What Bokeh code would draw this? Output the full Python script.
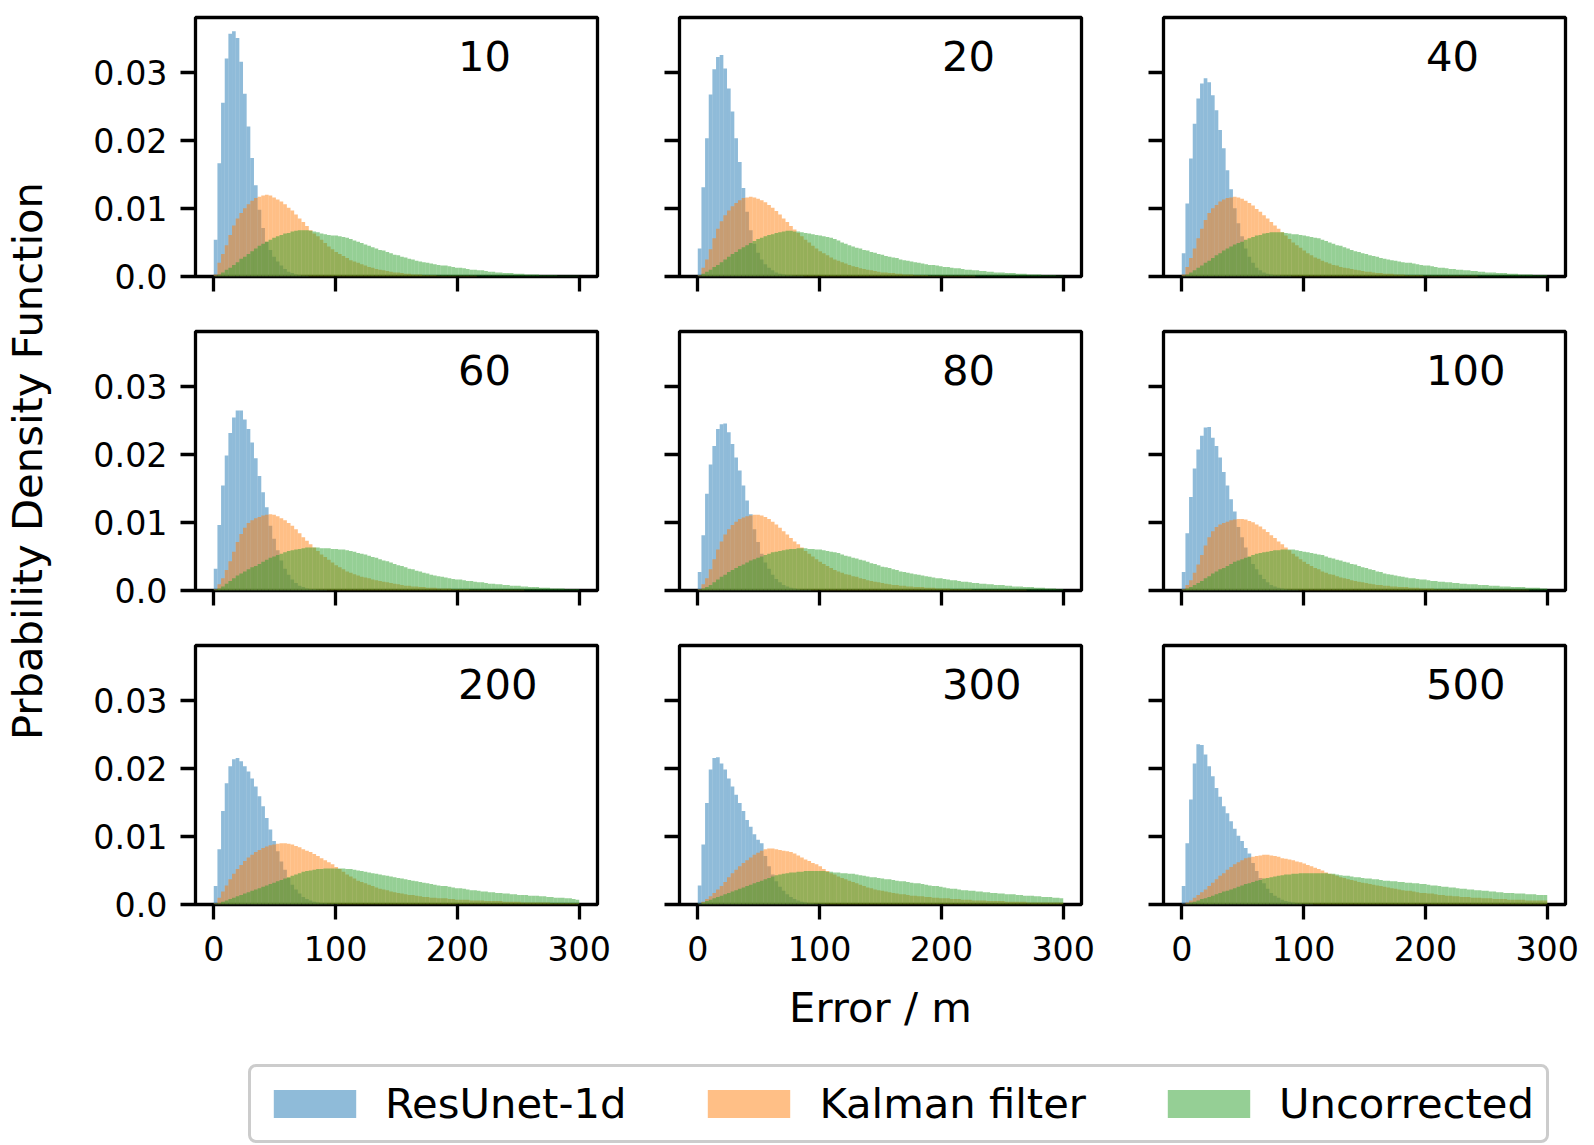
import numpy as np
from bokeh.plotting import figure
from bokeh.layouts import column, row
from bokeh.models import (Range1d, FixedTicker, Label, Legend, LegendItem,
                          CustomJSTickFormatter, ColumnDataSource)
from bokeh.embed import file_html
from bokeh.resources import INLINE

# ---------------- data: density per 3 m bin, in units of 1e-4 ----------------
error_bin_edges_m = np.linspace(0, 300, 101)
density_unit = 1e-4
panel_labels = ["10", "20", "40", "60", "80", "100", "200", "300", "500"]
series_names = ["ResUnet-1d", "Kalman filter", "Uncorrected"]
x_tick_values = [0, 100, 200, 300]
y_tick_values = [0.0, 0.01, 0.02, 0.03]
y_tick_labels = ["0.0", "0.01", "0.02", "0.03"]

resunet_10 = [54,166,255,320,356,360,350,315,268,220, 174,134,98,71,51,39,29,22,16,11,
              7,5,3,2,1,1,0,0,0,0, 0,0,0,0,0,0,0,0,0,0, 0,0,0,0,0,0,0,0,0,0,
              0,0,0,0,0,0,0,0,0,0, 0,0,0,0,0,0,0,0,0,0, 0,0,0,0,0,0,0,0,0,0,
              0,0,0,0,0,0,0,0,0,0, 0,0,0,0,0,0,0,0,0,0]
kalman_10 = [3,20,33,46,61,75,85,93,100,106, 111,115,117,119,120,119,116,113,110,106,
             101,97,91,85,80,74,68,63,59,54, 49,44,40,36,33,30,27,24,22,20,
             18,16,14,13,11,10,9,8,7,6, 6,5,4,4,3,3,3,2,2,2,
             2,1,1,1,1,1,1,1,1,1, 1,1,0,0,0,0,0,0,0,0, 0,0,0,0,0,0,0,0,0,0,
             0,0,0,0,0,0,0,0,0,0]
uncorrected_10 = [1,3,6,10,13,17,21,26,29,33, 37,41,45,48,51,54,57,59,61,63,
                  64,66,67,68,68,68,67,66,65,63, 62,61,60,60,59,58,57,55,53,51,
                  49,47,45,43,41,39,38,36,34,32, 31,29,28,26,25,23,22,21,20,19,
                  18,17,16,16,15,14,13,13,12,11, 10,10,9,9,8,7,7,6,6,5,
                  5,5,4,4,4,3,3,3,3,2, 2,2,2,2,1,1,1,1,1,1]

resunet_20 = [41,131,203,267,304,322,325,305,276,242, 203,168,130,95,68,48,35,25,18,13,
              9,6,4,3,2,2,1,1,1,0, 0,0,0,0,0,0,0,0,0,0, 0,0,0,0,0,0,0,0,0,0,
              0,0,0,0,0,0,0,0,0,0, 0,0,0,0,0,0,0,0,0,0, 0,0,0,0,0,0,0,0,0,0,
              0,0,0,0,0,0,0,0,0,0, 0,0,0,0,0,0,0,0,0,0]
kalman_20 = [2,13,25,40,56,70,81,90,97,103, 108,112,115,116,117,116,114,112,109,105,
             101,96,91,85,80,74,69,64,59,54, 50,45,41,37,34,31,28,25,23,21,
             19,17,15,14,12,11,10,9,8,7, 6,6,5,5,4,4,3,3,3,2,
             2,2,2,1,1,1,1,1,1,1, 1,1,1,1,1,1,0,0,0,0, 0,0,0,0,0,0,0,0,0,0,
             0,0,0,0,0,0,0,0,0,0]
uncorrected_20 = [1,4,7,10,14,17,21,25,29,33, 36,40,43,46,49,52,55,57,59,61,
                  62,64,65,66,67,67,66,66,65,64, 63,62,61,60,59,58,57,55,53,50,
                  48,46,44,42,41,39,38,36,35,33, 32,30,29,28,27,25,24,23,22,21,
                  20,19,18,17,17,16,15,14,14,13, 12,12,11,10,10,9,9,8,8,7,
                  7,6,6,6,5,5,5,4,4,4, 3,3,3,3,2,2,2,2,1,1]

resunet_40 = [34,107,173,224,261,283,291,285,266,244, 215,188,156,128,100,78,59,41,29,20,
              13,9,6,4,3,2,2,1,1,1, 0,0,0,0,0,0,0,0,0,0, 0,0,0,0,0,0,0,0,0,0,
              0,0,0,0,0,0,0,0,0,0, 0,0,0,0,0,0,0,0,0,0, 0,0,0,0,0,0,0,0,0,0,
              0,0,0,0,0,0,0,0,0,0, 0,0,0,0,0,0,0,0,0,0]
kalman_40 = [3,14,27,41,56,70,83,93,100,105, 110,113,115,116,117,116,114,111,108,104,
             99,95,90,85,80,75,70,65,60,55, 50,46,42,38,34,31,28,26,23,21,
             19,17,16,14,13,12,11,10,9,8, 7,7,6,5,5,4,4,4,3,3,
             3,2,2,2,2,2,1,1,1,1, 1,1,1,1,1,1,1,1,1,1, 1,0,0,0,0,0,0,0,0,0,
             0,0,0,0,0,0,0,0,0,0]
uncorrected_40 = [1,3,6,9,13,16,20,23,27,31, 34,38,41,44,47,49,51,54,56,58,
                  60,61,63,64,65,65,65,65,64,63, 62,62,61,60,59,58,57,56,54,52,
                  50,48,46,45,43,41,39,37,36,34, 33,31,30,29,27,26,25,24,23,22,
                  21,20,20,19,18,17,16,16,15,14, 13,13,12,11,11,10,10,9,9,8,
                  8,7,7,6,6,6,5,5,5,4, 4,4,3,3,3,3,2,2,2,2]

resunet_60 = [32,96,154,198,231,254,264,264,251,237, 217,194,168,144,122,95,76,59,44,32,
              23,16,11,7,5,3,2,2,1,1, 1,0,0,0,0,0,0,0,0,0, 0,0,0,0,0,0,0,0,0,0,
              0,0,0,0,0,0,0,0,0,0, 0,0,0,0,0,0,0,0,0,0, 0,0,0,0,0,0,0,0,0,0,
              0,0,0,0,0,0,0,0,0,0, 0,0,0,0,0,0,0,0,0,0]
kalman_60 = [2,9,18,30,43,57,71,83,92,99, 103,106,108,110,111,112,111,109,106,103,
             99,95,90,84,78,73,68,63,58,53, 49,45,41,37,34,31,28,26,24,22,
             20,19,18,16,15,14,13,12,11,10, 9,8,7,7,6,6,5,5,4,4,
             4,3,3,3,3,2,2,2,2,2, 1,1,1,1,1,1,1,1,1,1, 1,1,1,1,1,0,0,0,0,0,
             0,0,0,0,0,0,0,0,0,0]
uncorrected_60 = [1,3,6,10,14,18,22,25,28,31, 34,36,39,42,45,48,50,52,54,56,
                  58,59,60,61,62,63,63,63,63,62, 62,62,61,61,60,60,59,58,57,55,
                  54,53,51,49,48,46,44,43,41,39, 37,36,34,32,31,29,28,26,25,23,
                  22,21,20,19,18,17,16,16,15,14, 14,13,12,12,11,10,10,9,9,8,
                  8,7,7,7,6,6,5,5,5,4, 4,4,3,3,3,3,2,2,2,2]

resunet_80 = [27,81,142,185,212,237,244,245,232,215, 195,176,154,132,112,90,71,54,41,32,
              23,17,12,8,6,4,3,2,1,1, 1,0,0,0,0,0,0,0,0,0, 0,0,0,0,0,0,0,0,0,0,
              0,0,0,0,0,0,0,0,0,0, 0,0,0,0,0,0,0,0,0,0, 0,0,0,0,0,0,0,0,0,0,
              0,0,0,0,0,0,0,0,0,0, 0,0,0,0,0,0,0,0,0,0]
kalman_80 = [2,9,18,31,46,60,72,82,90,96, 101,105,107,109,110,111,111,110,108,105,
             101,97,92,87,82,77,72,68,63,58, 54,50,46,42,39,36,33,30,28,26,
             24,23,21,20,18,17,15,14,13,12, 11,10,9,8,8,7,7,6,6,5,
             5,5,4,4,4,3,3,3,3,2, 2,2,2,2,2,1,1,1,1,1, 1,1,1,1,1,1,1,1,1,1,
             0,0,0,0,0,0,0,0,0,0]
uncorrected_80 = [1,3,5,8,12,16,20,23,27,30, 33,36,38,41,44,46,48,50,52,54,
                  56,57,58,59,60,61,61,62,62,62, 61,61,60,60,59,58,57,56,55,53,
                  51,50,48,47,45,44,42,40,39,37, 35,34,33,31,30,28,27,26,25,24,
                  23,22,21,20,19,18,18,17,16,15, 15,14,13,13,12,11,11,10,10,9,
                  9,8,8,8,7,7,6,6,6,5, 5,5,4,4,4,3,3,3,2,2]

resunet_100 = [27,84,137,179,207,227,239,240,224,212, 195,174,154,134,116,93,78,63,49,39,
               31,23,17,12,8,6,4,3,2,1, 1,1,0,0,0,0,0,0,0,0, 0,0,0,0,0,0,0,0,0,0,
               0,0,0,0,0,0,0,0,0,0, 0,0,0,0,0,0,0,0,0,0, 0,0,0,0,0,0,0,0,0,0,
               0,0,0,0,0,0,0,0,0,0, 0,0,0,0,0,0,0,0,0,0]
kalman_100 = [2,8,15,26,38,52,66,78,87,93, 97,99,101,103,104,105,105,104,102,100,
              97,94,90,86,81,77,72,68,63,59, 54,50,46,42,39,36,33,31,28,26,
              24,23,21,19,18,17,15,14,13,12, 11,10,9,8,8,7,7,6,6,5,
              5,5,4,4,4,3,3,3,3,2, 2,2,2,2,2,2,1,1,1,1, 1,1,1,1,1,1,1,1,1,1,
              1,1,1,1,1,0,0,0,0,0]
uncorrected_100 = [1,3,5,8,11,14,18,21,25,28, 31,33,36,39,42,44,46,48,50,52,
                   54,55,56,57,58,59,59,60,60,60, 60,59,58,57,56,55,54,53,52,50,
                   48,47,45,44,42,41,39,38,36,34, 33,31,30,28,27,25,24,23,22,21,
                   20,19,18,18,17,16,16,15,14,14, 13,13,12,12,11,11,10,10,9,9,
                   9,8,8,8,7,7,7,6,6,6, 5,5,5,5,4,4,4,4,3,3]

resunet_200 = [27,81,137,178,203,213,215,210,203,195, 185,173,159,144,127,110,93,78,63,51,
               39,29,22,16,11,8,6,4,3,2, 2,1,1,1,0,0,0,0,0,0, 0,0,0,0,0,0,0,0,0,0,
               0,0,0,0,0,0,0,0,0,0, 0,0,0,0,0,0,0,0,0,0, 0,0,0,0,0,0,0,0,0,0,
               0,0,0,0,0,0,0,0,0,0, 0,0,0,0,0,0,0,0,0,0]
kalman_200 = [2,10,19,28,37,45,52,58,64,69, 73,77,80,83,85,87,88,89,90,90,
              89,88,86,84,81,79,77,74,71,68, 65,62,59,55,52,48,44,41,38,35,
              33,31,29,27,25,23,22,21,19,18, 17,16,15,14,14,13,12,11,11,10,
              10,9,9,9,8,8,7,7,7,7, 6,6,6,6,5,5,5,5,5,4, 4,4,4,4,3,3,3,3,3,3,
              3,3,2,2,2,2,2,2,2,2]
uncorrected_200 = [1,2,4,6,8,10,12,14,16,18, 20,22,24,26,28,30,32,34,36,38,
                   40,42,44,46,48,49,50,51,52,52, 53,53,53,53,53,53,52,52,51,50,
                   49,48,47,46,45,44,43,42,41,40, 39,38,37,36,35,34,33,32,31,30,
                   29,28,27,27,26,25,24,24,23,22, 21,21,20,19,19,18,18,17,17,16,
                   16,15,15,14,14,14,13,13,13,12, 12,11,11,10,10,10,9,9,8,7]

resunet_300 = [28,88,149,198,215,216,207,198,185,173, 161,149,137,124,114,103,95,90,71,56,
               44,34,26,20,15,11,8,6,4,3, 2,2,1,1,1,0,0,0,0,0, 0,0,0,0,0,0,0,0,0,0,
               0,0,0,0,0,0,0,0,0,0, 0,0,0,0,0,0,0,0,0,0, 0,0,0,0,0,0,0,0,0,0,
               0,0,0,0,0,0,0,0,0,0, 0,0,0,0,0,0,0,0,0,0]
kalman_300 = [1,4,8,12,17,22,27,33,40,46, 51,56,61,65,69,73,76,79,81,82,
              82,81,80,79,78,77,75,72,69,66, 64,61,59,56,52,49,46,44,41,39,
              37,35,33,31,29,27,25,24,22,21, 20,19,18,17,16,15,15,14,13,13,
              12,12,11,11,10,10,9,9,9,8, 8,8,7,7,7,6,6,6,6,5, 5,5,5,5,4,4,4,4,4,4,
              3,3,3,3,3,3,3,3,3,3]
uncorrected_300 = [1,3,5,7,9,11,13,15,17,19, 21,23,25,27,29,31,33,35,37,39,
                   41,43,44,45,46,47,47,48,48,49, 49,49,49,49,49,48,48,47,47,46,
                   46,45,45,44,43,42,41,40,40,39, 38,37,37,36,35,34,34,33,32,31,
                   31,30,29,28,27,27,26,25,24,23, 23,22,21,21,20,20,19,19,18,18,
                   17,17,16,16,15,15,15,14,14,13, 13,13,12,12,11,11,11,10,10,9]

resunet_500 = [27,90,154,207,235,234,220,203,188,171, 158,144,134,122,111,101,93,83,75,61,
               49,39,31,23,17,13,10,7,5,4, 3,2,2,1,1,1,0,0,0,0, 0,0,0,0,0,0,0,0,0,0,
               0,0,0,0,0,0,0,0,0,0, 0,0,0,0,0,0,0,0,0,0, 0,0,0,0,0,0,0,0,0,0,
               0,0,0,0,0,0,0,0,0,0, 0,0,0,0,0,0,0,0,0,0]
kalman_500 = [1,3,6,10,14,18,22,27,32,37, 42,46,51,55,59,62,65,68,69,70,
              71,72,73,73,72,71,70,68,67,66, 65,63,62,60,58,56,54,52,50,47,
              45,44,42,40,39,37,36,35,33,32, 31,30,29,28,27,26,25,24,23,22,
              21,20,20,19,18,17,17,16,16,15, 14,14,13,13,12,12,11,11,11,10,
              10,10,9,9,9,8,8,8,8,7, 7,7,7,7,6,6,6,6,6,6]
uncorrected_500 = [0,1,3,4,6,8,9,11,13,15, 17,19,20,22,24,26,28,30,31,33,
                   35,36,38,39,40,41,42,43,44,44, 45,45,46,46,46,46,46,46,46,46,
                   45,45,44,43,42,42,41,40,40,39, 38,38,37,37,36,35,35,34,34,33,
                   33,32,32,31,31,30,30,29,28,28, 27,26,26,25,25,24,23,23,22,22,
                   21,21,20,20,19,19,18,18,17,17, 17,16,16,16,15,15,15,14,14,14]

panel_series = [
    (resunet_10, kalman_10, uncorrected_10),
    (resunet_20, kalman_20, uncorrected_20),
    (resunet_40, kalman_40, uncorrected_40),
    (resunet_60, kalman_60, uncorrected_60),
    (resunet_80, kalman_80, uncorrected_80),
    (resunet_100, kalman_100, uncorrected_100),
    (resunet_200, kalman_200, uncorrected_200),
    (resunet_300, kalman_300, uncorrected_300),
    (resunet_500, kalman_500, uncorrected_500),
]

# ---------------- styling / layout ----------------
FONT = "DejaVu Sans"
COLORS = ["#1f77b4", "#ff7f0e", "#2ca02c"]
YLAB_W = 58
COL_W = [553, 484, 486]
COL_L = [137, 68, 68]
COL_R = [14, 14, 16]
ROW_H = [303, 314, 357]
ROW_T = [17, 28, 28]
ROW_B = [27, 27, 70]
BOTTOM_H = 171
TICK_FS = "33.3px"
LABEL_FS = "41.7px"

y_fmt = CustomJSTickFormatter(args=dict(tvals=y_tick_values, tlabels=y_tick_labels),
                              code="const i = tvals.indexOf(tick); return i >= 0 ? tlabels[i] : '';")
blank_fmt = CustomJSTickFormatter(code="return '';")


def blank_figure(w, h):
    f = figure(width=w, height=h, title=None, toolbar_location=None,
               output_backend="svg", x_axis_location=None, y_axis_location=None,
               min_border=0, min_border_left=0, min_border_right=0,
               min_border_top=0, min_border_bottom=0,
               x_range=Range1d(0, w), y_range=Range1d(0, h))
    f.grid.visible = False
    f.outline_line_color = None
    f.background_fill_color = "white"
    f.border_fill_color = "white"
    return f


figs = []
sources = []
for k in range(9):
    r, c = divmod(k, 3)
    p = figure(width=COL_W[c], height=ROW_H[r], title=None,
               x_range=Range1d(-15, 315), y_range=Range1d(0, 0.038),
               toolbar_location=None, output_backend="svg",
               min_border_left=COL_L[c], min_border_right=COL_R[c],
               min_border_top=ROW_T[r], min_border_bottom=ROW_B[r])
    p.grid.visible = False
    p.background_fill_color = "white"
    p.border_fill_color = "white"
    p.outline_line_color = "black"
    p.outline_line_width = 3.3
    p.outline_line_alpha = 1.0

    panel_sources = []
    for vals, col in zip(panel_series[k], COLORS):
        dens = np.asarray(vals, dtype=float) * density_unit
        src = ColumnDataSource(dict(left=error_bin_edges_m[:-1],
                                    right=error_bin_edges_m[1:], top=dens))
        p.quad(left="left", right="right", bottom=0, top="top", source=src,
               fill_color=col, fill_alpha=0.5, line_color=None)
        panel_sources.append(src)
    sources.append(panel_sources)

    for ax in (p.xaxis[0], p.yaxis[0]):
        ax.axis_line_color = None
        ax.major_tick_in = 0
        ax.major_tick_out = 15
        ax.major_tick_line_width = 3.3
        ax.major_tick_line_color = "black"
        ax.minor_tick_line_color = None
        ax.major_label_text_font = FONT
        ax.major_label_text_color = "black"
        ax.major_label_text_font_size = TICK_FS

    p.xaxis.ticker = FixedTicker(ticks=x_tick_values)
    p.yaxis.ticker = FixedTicker(ticks=y_tick_values)
    if r < 2:
        p.xaxis.formatter = blank_fmt
        p.xaxis.major_label_text_font_size = "0px"
        p.xaxis.major_label_standoff = 0
    else:
        p.xaxis.major_label_standoff = 16
    if c > 0:
        p.yaxis.formatter = blank_fmt
        p.yaxis.major_label_text_font_size = "0px"
        p.yaxis.major_label_standoff = 0
    else:
        p.yaxis.formatter = y_fmt
        p.yaxis.major_label_standoff = 13

    p.add_layout(Label(x=200.5, y=0.0324, text=panel_labels[k], text_font=FONT,
                       text_font_size=LABEL_FS, text_align="left",
                       text_baseline="alphabetic", text_color="black"))
    figs.append(p)

# left strip with the shared y label
grid_h = sum(ROW_H)
ylab = blank_figure(YLAB_W, grid_h)
ylab.add_layout(Label(x=27, y=grid_h - 460.5, text="Prbability Density Function",
                      angle=np.pi / 2, text_font=FONT, text_font_size=LABEL_FS,
                      text_align="center", text_baseline="middle", text_color="black"))

# bottom strip: shared x label + legend
total_w = YLAB_W + sum(COL_W)
bottom = blank_figure(total_w, BOTTOM_H)
bottom.x_range = Range1d(-2, -1)      # histogram renderers below only feed the legend swatches
bottom.y_range = Range1d(0, 1)
bottom.add_layout(Label(x=880, y=BOTTOM_H - 33, x_units="screen", y_units="screen",
                        text="Error / m", text_font=FONT, text_font_size=LABEL_FS,
                        text_align="center", text_baseline="middle", text_color="black"))
items = []
for name, col, src in zip(series_names, COLORS, sources[0]):
    rr = bottom.quad(left="left", right="right", bottom=0, top="top", source=src,
                     fill_color=col, fill_alpha=0.5, line_color=None)
    items.append(LegendItem(label=name, renderers=[rr]))
legend = Legend(items=items, orientation="horizontal", location=(248, 2),
                glyph_width=103, glyph_height=35, label_standoff=19, spacing=71,
                padding=12, margin=0, label_text_font=FONT,
                label_text_font_size=LABEL_FS, label_text_color="black",
                border_line_color="#cccccc", border_line_width=3.5,
                border_line_alpha=1.0, background_fill_color="white",
                background_fill_alpha=1.0)
if "border_radius" in Legend.properties():
    legend.border_radius = 8
bottom.add_layout(legend)

grid = column(row(*figs[0:3]), row(*figs[3:6]), row(*figs[6:9]))
layout = column(row(ylab, grid), bottom)
open("out.html", "w").write(file_html(layout, INLINE))
